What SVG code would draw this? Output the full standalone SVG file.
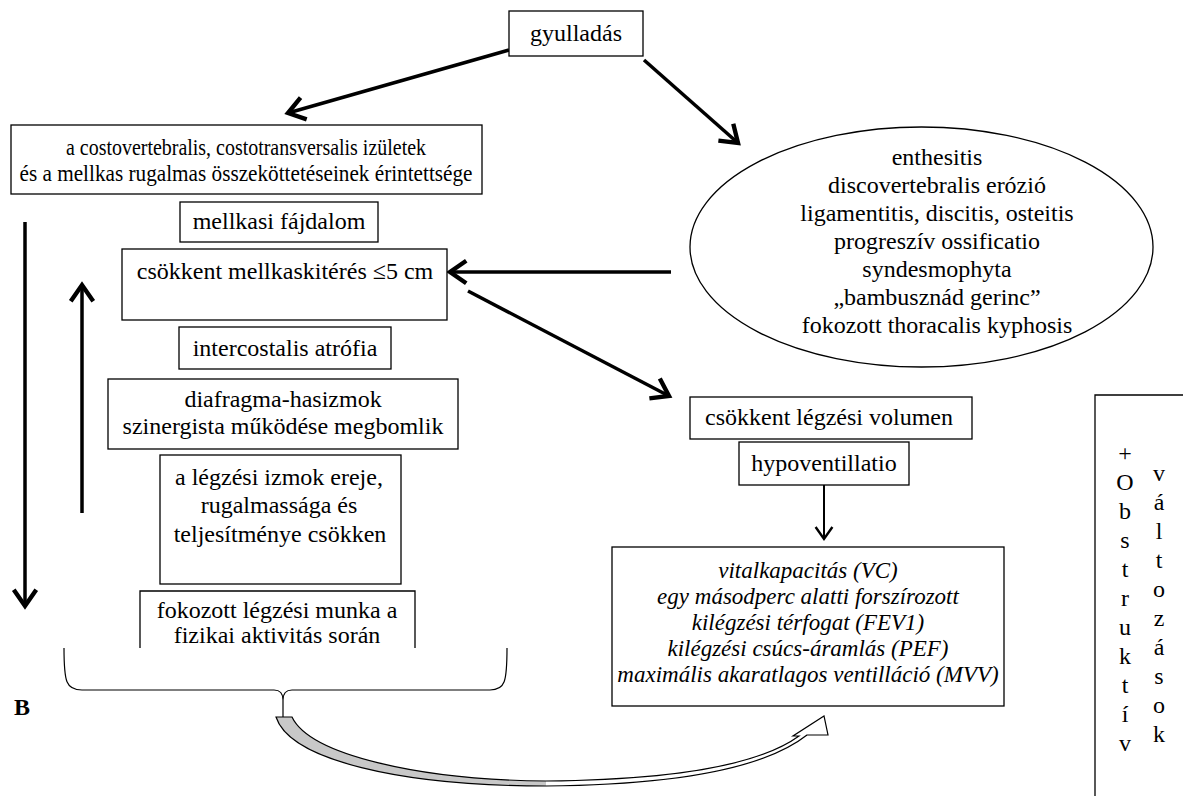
<svg xmlns="http://www.w3.org/2000/svg" width="1183" height="796" viewBox="0 0 1183 796" font-family="'Liberation Serif', 'Times New Roman', serif">
<style>
.box{fill:#fff;stroke:#000;stroke-width:1.3}
.t{font-family:'Liberation Serif','Times New Roman',serif;font-size:24px;fill:#000;text-anchor:middle}
.ti{font-family:'Liberation Serif','Times New Roman',serif;font-size:23px;font-style:italic;fill:#000;text-anchor:middle}
.c{fill:none;stroke:#000;stroke-width:3.5}
.thin{fill:none;stroke:#000;stroke-width:2}
</style>
<defs>
<marker id="ah" markerUnits="userSpaceOnUse" markerWidth="30" markerHeight="30" viewBox="-16 -12 20 24" refX="0" refY="0" orient="auto">
<path d="M-13,-9 L0,0 L-13,9" fill="none" stroke="#000" stroke-width="3.5"/>
</marker>
<marker id="ahs" markerUnits="userSpaceOnUse" markerWidth="24" markerHeight="24" viewBox="-14 -10 18 20" refX="0" refY="0" orient="auto">
<path d="M-10,-7 L0,0 L-10,7" fill="none" stroke="#000" stroke-width="2"/>
</marker>
<clipPath id="cut"><rect x="100" y="585" width="360" height="63"/></clipPath>
</defs>
<rect width="1183" height="796" fill="#fff"/>

<g id="connectors">
<line class="c" x1="509" y1="50" x2="288" y2="113" marker-end="url(#ah)"/>
<line class="c" x1="644" y1="60" x2="738" y2="143" marker-end="url(#ah)"/>
<line class="c" x1="671" y1="272" x2="450" y2="272" marker-end="url(#ah)"/>
<line class="c" x1="468" y1="291" x2="669" y2="396" marker-end="url(#ah)"/>
<line class="c" x1="25" y1="222" x2="25" y2="606" marker-end="url(#ah)"/>
<line class="c" x1="82" y1="513" x2="82" y2="285" marker-end="url(#ah)"/>
<line class="thin" x1="824" y1="485" x2="824" y2="539" marker-end="url(#ahs)"/>
</g>

<g id="gyulladas">
<rect class="box" x="509" y="11" width="134" height="45"/>
<text class="t" x="576" y="41">gyulladás</text>
</g>

<g id="costo">
<rect class="box" x="11" y="125" width="471" height="69"/>
<text class="t" x="246" y="155" font-size="22" textLength="360" lengthAdjust="spacingAndGlyphs">a costovertebralis, costotransversalis izületek</text>
<text class="t" x="246" y="181" font-size="22" textLength="453" lengthAdjust="spacingAndGlyphs">és a mellkas rugalmas összeköttetéseinek érintettsége</text>
</g>

<g id="fajdalom">
<rect class="box" x="180" y="202" width="198" height="40"/>
<text class="t" x="279" y="229">mellkasi fájdalom</text>
</g>

<g id="kiteres">
<rect class="box" x="122" y="249" width="325" height="71"/>
<text class="t" x="285" y="279">csökkent mellkaskitérés ≤5 cm</text>
</g>

<g id="atrofia">
<rect class="box" x="179" y="327" width="212" height="42"/>
<text class="t" x="285" y="356">intercostalis atrófia</text>
</g>

<g id="diafragma">
<rect class="box" x="108" y="379" width="350" height="70"/>
<text class="t" x="283" y="407">diafragma-hasizmok</text>
<text class="t" x="283" y="434">szinergista működése megbomlik</text>
</g>

<g id="izmok">
<rect class="box" x="160" y="455" width="241" height="129"/>
<text class="t" x="279" y="485">a légzési  izmok ereje,</text>
<text class="t" x="279" y="513">rugalmassága és</text>
<text class="t" x="280" y="542">teljesítménye csökken</text>
</g>

<g id="munka">
<path class="box" d="M140,648 V591 H415 V648" fill="none"/>
<g clip-path="url(#cut)">
<text class="t" x="277" y="618">fokozott légzési munka a</text>
<text class="t" x="277" y="643">fizikai aktivitás során</text>
</g>
</g>

<g id="brace">
<path d="M64,648 C64,682 66,690 82,690 L274,690 Q283,690 283,700 L283,717 M283,700 Q283,690 292,690 L490,690 C505,690 507,682 507,648" fill="none" stroke="#000" stroke-width="1.2"/>
</g>

<g id="label-b">
<text x="14" y="715" font-family="'Liberation Serif', serif" font-size="24" font-weight="bold">B</text>
</g>

<g id="curved-arrow">
<path d="M276,717 L292,717 C310,755 420,780 546,781 L546,786 C400,786 290,760 276,717 Z" fill="#c8c8c8"/>
<path d="M546,781 C660,780 755,768 799,736 L793,736 L824,716 L828,735 L807,735 C760,772 660,785 546,786 Z" fill="#fff"/>
<path d="M276,717 L292,717 C310,755 420,780 546,781 C660,780 755,768 799,736 L793,736 L824,716 L828,735 L807,735 C760,772 660,785 546,786 C400,786 290,760 276,717 Z" fill="none" stroke="#000" stroke-width="1.2"/>
</g>

<g id="ellipse">
<ellipse cx="921.5" cy="247" rx="231.5" ry="120" fill="#fff" stroke="#000" stroke-width="1.3"/>
<text class="t" x="937" y="165">enthesitis</text>
<text class="t" x="937" y="193">discovertebralis erózió</text>
<text class="t" x="937" y="221">ligamentitis, discitis, osteitis</text>
<text class="t" x="937" y="249">progreszív ossificatio</text>
<text class="t" x="937" y="277">syndesmophyta</text>
<text class="t" x="937" y="305">„bambusznád gerinc”</text>
<text class="t" x="937" y="333">fokozott thoracalis kyphosis</text>
</g>

<g id="volumen">
<rect class="box" x="690" y="397" width="282" height="42"/>
<text class="t" x="829" y="425">csökkent légzési volumen</text>
</g>

<g id="hypo">
<rect class="box" x="739" y="442" width="170" height="43"/>
<text class="t" x="824" y="471">hypoventillatio</text>
</g>

<g id="spiro">
<rect class="box" x="612" y="547" width="392" height="159"/>
<text class="ti" x="808" y="578">vitalkapacitás (VC)</text>
<text class="ti" x="808" y="604">egy másodperc alatti forszírozott</text>
<text class="ti" x="808" y="630">kilégzési térfogat (FEV1)</text>
<text class="ti" x="808" y="656">kilégzési csúcs-áramlás (PEF)</text>
<text class="ti" x="808" y="682">maximális akaratlagos ventilláció (MVV)</text>
</g>

<g id="obstruktiv">
<path d="M1095,800 V395 H1190" fill="none" stroke="#000" stroke-width="1.3"/>
<g class="t" font-size="23">
<text x="1125" y="461">+</text>
<text x="1125" y="490">O</text>
<text x="1125" y="519">b</text>
<text x="1125" y="548">s</text>
<text x="1125" y="577">t</text>
<text x="1125" y="606">r</text>
<text x="1125" y="635">u</text>
<text x="1125" y="664">k</text>
<text x="1125" y="693">t</text>
<text x="1125" y="722">í</text>
<text x="1125" y="751">v</text>
<text x="1159" y="481">v</text>
<text x="1159" y="510">á</text>
<text x="1159" y="539">l</text>
<text x="1159" y="568">t</text>
<text x="1159" y="597">o</text>
<text x="1159" y="626">z</text>
<text x="1159" y="655">á</text>
<text x="1159" y="684">s</text>
<text x="1159" y="713">o</text>
<text x="1159" y="742">k</text>
</g>
</g>
</svg>
